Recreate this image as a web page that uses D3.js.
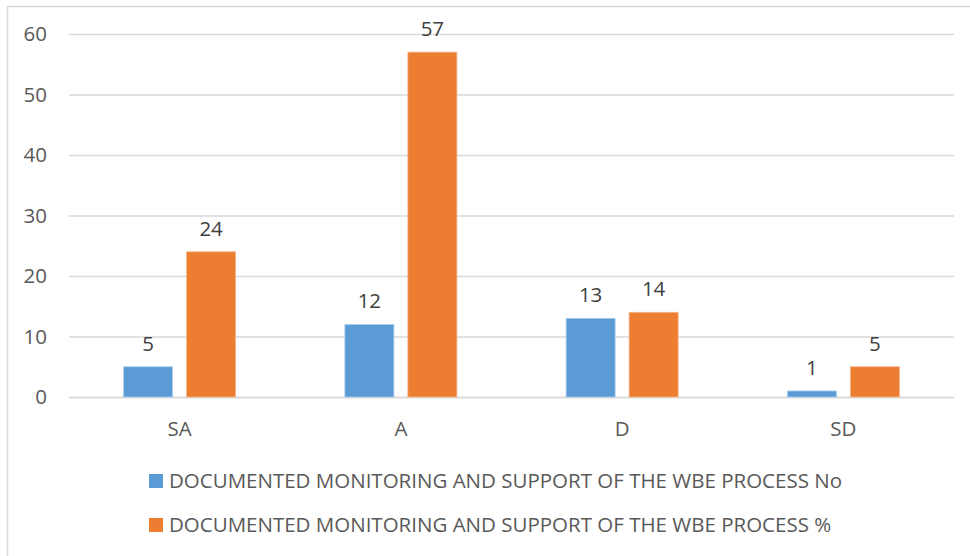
<!DOCTYPE html>
<html><head><meta charset="utf-8">
<script src="https://cdn.jsdelivr.net/npm/d3@7/dist/d3.min.js"></script>
<style>body{margin:0;background:#fff}svg{display:block}text{font-family:"Open Sans",sans-serif;fill:#595959}</style>
</head><body>
<script>
const categories = ["SA","A","D","SD"];
const seriesNames = ["DOCUMENTED MONITORING AND SUPPORT OF THE WBE PROCESS No","DOCUMENTED MONITORING AND SUPPORT OF THE WBE PROCESS %"];
const valuesNo = [5,12,13,1];
const valuesPct = [24,57,14,5];
const yTicks = [0,10,20,30,40,50,60];
const colors = ["#5B9BD5","#ED7D31"];

const W=970,H=556, FS=20.5;
const svg=d3.select("body").append("svg").attr("width",W).attr("height",H);
svg.append("line").attr("x1",7).attr("x2",W).attr("y1",6.5).attr("y2",6.5).attr("stroke","#d9d9d9").attr("stroke-width",1.5);
svg.append("line").attr("x1",7.5).attr("x2",7.5).attr("y1",6).attr("y2",H).attr("stroke","#d9d9d9").attr("stroke-width",1.5);

const x0=d3.scaleBand().domain(categories).range([69,954]);
const y=d3.scaleLinear().domain([0,60]).range([397,34]);
const barW=49, gap=14;
const x1=d3.scaleOrdinal().domain([0,1]).range([-(gap/2+barW), gap/2]);

const yAxis=d3.axisLeft(y).tickValues(yTicks).tickSize(-(954-69)).tickPadding(22);
const gy=svg.append("g").attr("transform","translate(69,0)").call(yAxis);
gy.select(".domain").remove();
gy.selectAll(".tick line").attr("stroke","#d9d9d9").attr("stroke-width",1.5);
gy.selectAll(".tick text").attr("font-size",FS).style("fill","#595959");

const xAxis=d3.axisBottom(x0).tickSize(0).tickPadding(24);
const gx=svg.append("g").attr("transform","translate(0,397)").call(xAxis);
gx.select(".domain").attr("stroke","#d9d9d9").attr("stroke-width",1.5);
gx.selectAll(".tick text").attr("font-size",FS).style("fill","#595959");

const series=[valuesNo,valuesPct];
series.forEach((vals,si)=>{
  const g=svg.append("g");
  g.selectAll("rect").data(vals).join("rect")
    .attr("x",(d,i)=>x0(categories[i])+x0.bandwidth()/2+x1(si))
    .attr("y",d=>y(d)).attr("width",barW).attr("height",d=>y(0)-y(d))
    .attr("fill",colors[si]).attr("stroke",si?"#f5b48a":"#a9cdee").attr("stroke-width",0.8);
  g.selectAll("text").data(vals).join("text")
    .attr("x",(d,i)=>x0(categories[i])+x0.bandwidth()/2+x1(si)+barW/2)
    .attr("y",d=>y(d)-16).attr("text-anchor","middle").attr("font-size",FS)
    .style("fill","#404040").text(d=>d);
});

const leg=svg.append("g");
seriesNames.forEach((n,i)=>{
  const cy=481+i*44;
  leg.append("rect").attr("x",149).attr("y",cy-7).attr("width",14).attr("height",14).attr("fill",colors[i]);
  leg.append("text").attr("x",169).attr("y",cy).attr("dy","0.35em").attr("font-size",FS).text(n);
});
</script>
</body></html>
